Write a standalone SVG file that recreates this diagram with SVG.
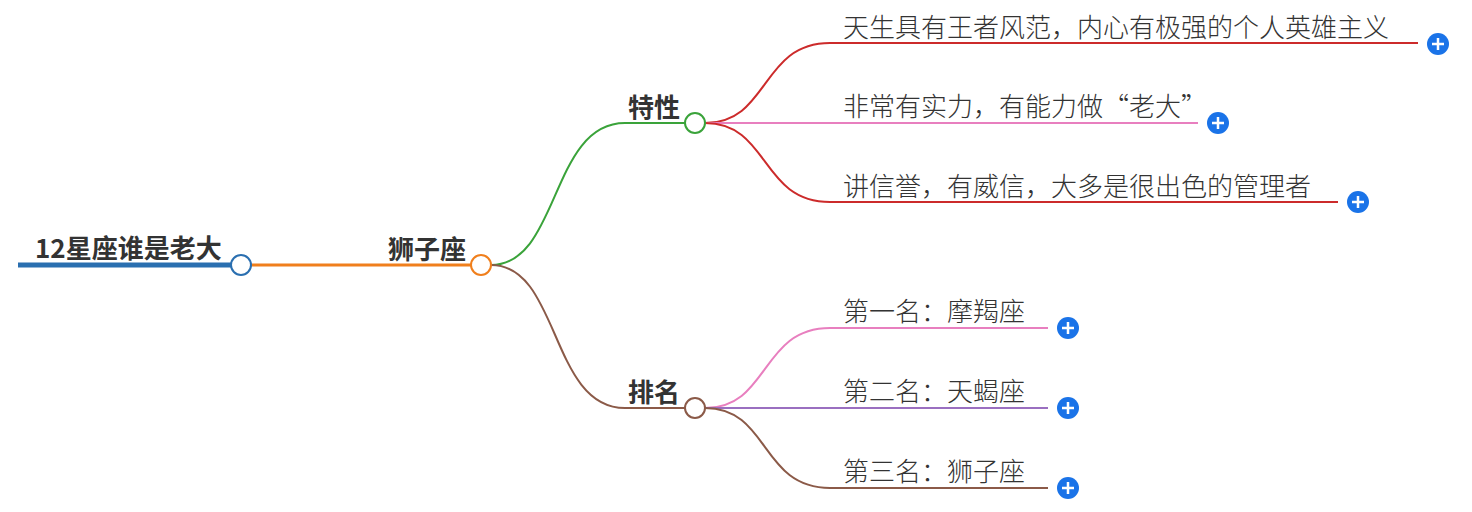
<svg xmlns="http://www.w3.org/2000/svg" width="1472" height="512" viewBox="0 0 1472 512">
<style>
.b{font-family:"Noto Sans CJK SC","Noto Sans",sans-serif;font-weight:700;font-size:26px;fill:#333}
.t{font-family:"Noto Sans CJK SC","Noto Sans",sans-serif;font-weight:300;font-size:26px;fill:#333}
.c{fill:none;stroke-width:2}
.n{fill:#fff;stroke-width:2}
.p{fill:#1a73e8}
.pl{stroke:#fff;stroke-width:2.5}
</style>
<rect width="1472" height="512" fill="#fff"/>
<g id="connectors">
<line x1="18" y1="265" x2="231" y2="265" stroke="#2a6fb0" stroke-width="5"/>
<line x1="251" y1="265" x2="471" y2="265" stroke="#f07f1c" stroke-width="3"/>
<path class="c" stroke="#3aa33a" d="M491 265 C560 265 550 123 625 123 L685 123"/>
<path class="c" stroke="#8b5a48" d="M491 265 C560 265 550 408 625 408 L685 408"/>
<path class="c" stroke="#cc2b2b" d="M705 123 C770 123 760 43 830 43 L1418 43"/>
<path class="c" stroke="#e87fbf" d="M705 123 L1198 123"/>
<path class="c" stroke="#cc2b2b" d="M705 123 C770 123 760 202 830 202 L1338 202"/>
<path class="c" stroke="#e87fbf" d="M705 408 C770 408 760 328 830 328 L1048 328"/>
<path class="c" stroke="#9a6fc0" d="M705 408 L1048 408"/>
<path class="c" stroke="#8b5a48" d="M705 408 C770 408 760 488 830 488 L1048 488"/>
</g>
<g id="root"><text class="b" x="35" y="258">12星座谁是老大</text><circle class="n" cx="241" cy="265" r="10" stroke="#2a6fb0"/></g>
<g id="leo"><text class="b" x="466" y="259" text-anchor="end">狮子座</text><circle class="n" cx="481" cy="265" r="10" stroke="#f07f1c"/></g>
<g id="trait"><text class="b" x="680" y="117" text-anchor="end">特性</text><circle class="n" cx="695" cy="123" r="10" stroke="#3aa33a"/></g>
<g id="rank"><text class="b" x="680" y="402" text-anchor="end">排名</text><circle class="n" cx="695" cy="408" r="10" stroke="#8b5a48"/></g>
<g id="t1"><text class="t" x="843" y="37">天生具有王者风范，内心有极强的个人英雄主义</text><circle class="p" cx="1438" cy="44" r="11"/><path class="pl" d="M1432 44h12M1438 38v12"/></g>
<g id="t2"><text class="t" x="843" y="116">非常有实力，有能力做“老大”</text><circle class="p" cx="1218" cy="123" r="11"/><path class="pl" d="M1212 123h12M1218 117v12"/></g>
<g id="t3"><text class="t" x="843" y="196">讲信誉，有威信，大多是很出色的管理者</text><circle class="p" cx="1358" cy="202" r="11"/><path class="pl" d="M1352 202h12M1358 196v12"/></g>
<g id="r1"><text class="t" x="843" y="321">第一名：摩羯座</text><circle class="p" cx="1068" cy="328" r="11"/><path class="pl" d="M1062 328h12M1068 322v12"/></g>
<g id="r2"><text class="t" x="843" y="401">第二名：天蝎座</text><circle class="p" cx="1068" cy="408" r="11"/><path class="pl" d="M1062 408h12M1068 402v12"/></g>
<g id="r3"><text class="t" x="843" y="481">第三名：狮子座</text><circle class="p" cx="1068" cy="488" r="11"/><path class="pl" d="M1062 488h12M1068 482v12"/></g>
</svg>
